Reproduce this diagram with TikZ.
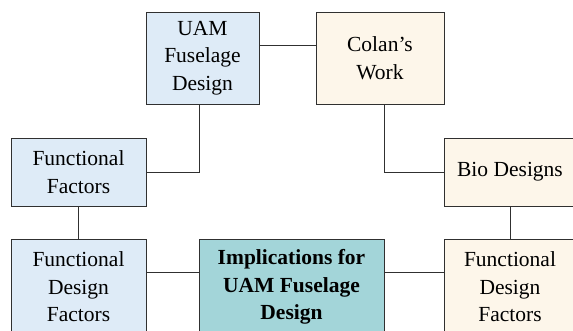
\documentclass[tikz,border=0pt]{standalone}
\usepackage{fontspec}
\setmainfont{Liberation Serif}
\usetikzlibrary{calc}
\definecolor{boxblue}{HTML}{DEEBF7}
\definecolor{boxcream}{HTML}{FDF6EA}
\definecolor{boxteal}{HTML}{A3D5D9}
\definecolor{edge}{HTML}{303030}
\begin{document}
\begin{tikzpicture}[x=1pt,y=-1pt,
  box/.style={draw=edge, line width=1pt, align=center, inner sep=0pt,
    font=\fontsize{21.5}{27.5}\selectfont},
  link/.style={draw=edge, line width=1pt}]
\useasboundingbox (0,0) rectangle (573,330);
\clip (0,0) rectangle (573,330);
% top row
\node[box, fill=boxblue, minimum width=113pt, minimum height=92pt] (uam) at (202.5,58) {UAM\\Fuselage\\Design};
\node[box, fill=boxcream, minimum width=128pt, minimum height=92pt] (colan) at (380,58) {Colan’s\\Work};
% middle row
\node[box, fill=boxblue, minimum width=135pt, minimum height=68pt] (ff) at (78.5,172) {Functional\\Factors};
\node[box, fill=boxcream, minimum width=132pt, minimum height=68pt] (bio) at (510,172) {Bio Designs};
% bottom row
\node[box, fill=boxblue, minimum width=135pt, minimum height=96pt] (fdfl) at (78.5,287) {Functional\\Design\\Factors};
\node[box, fill=boxteal, minimum width=185pt, minimum height=96pt, font=\fontsize{21.5}{27.5}\selectfont\bfseries] (impl) at (291.5,287) {Implications for\\UAM Fuselage\\Design};
\node[box, fill=boxcream, minimum width=132pt, minimum height=96pt] (fdfr) at (510,287) {Functional\\Design\\Factors};
% connectors
\draw[link] ($(uam.north east)!0.37!(uam.south east)$) -- ($(colan.north west)!0.37!(colan.south west)$);
\draw[link] (ff.east) -| ([xshift=-3.5pt]uam.south);
\draw[link] ([xshift=4pt]colan.south) |- (bio.west);
\draw[link] (ff.south) -- (fdfl.north);
\draw[link] (bio.south) -- (fdfr.north);
\draw[link] ($(fdfl.north east)!0.354!(fdfl.south east)$) -- ($(impl.north west)!0.354!(impl.south west)$);
\draw[link] ($(impl.north east)!0.354!(impl.south east)$) -- ($(fdfr.north west)!0.354!(fdfr.south west)$);
\end{tikzpicture}
\end{document}
